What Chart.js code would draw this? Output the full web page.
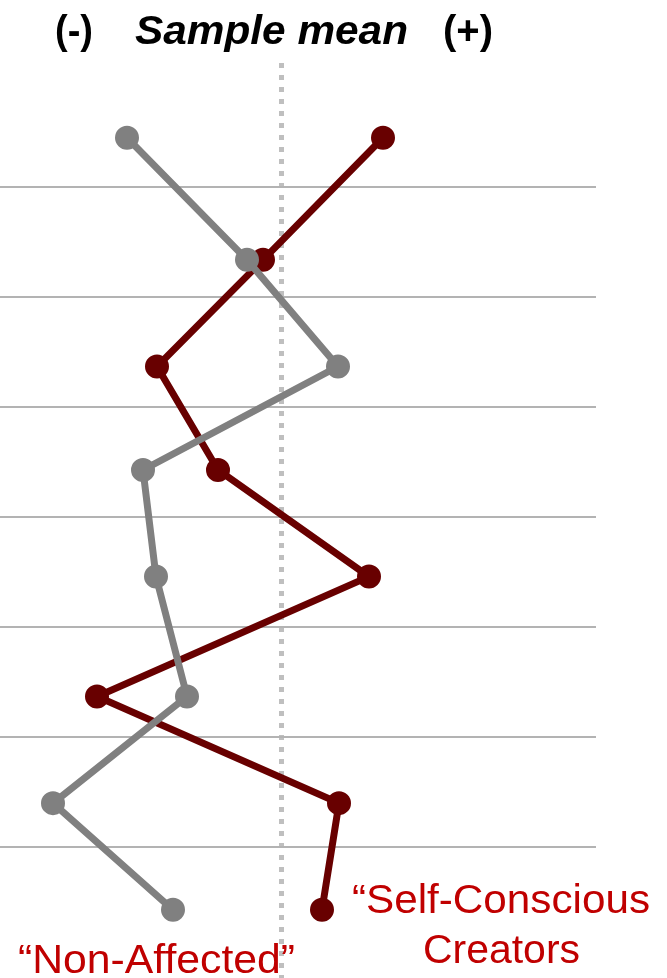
<!DOCTYPE html>
<html>
<head>
<meta charset="utf-8">
<script src="https://cdn.jsdelivr.net/npm/chart.js@4"></script>
<style>
  body { margin: 0; background: #fff; }
  canvas { display: block; }
</style>
</head>
<body>
<canvas id="profileChart" width="667" height="978"></canvas>
<script>
// Row position of each item (0 = top, gridlines between rows at 1..7)
var rows = [0.55, 1.66, 2.63, 3.57, 4.54, 5.63, 6.6, 7.57];
// Deviation from the sample mean (0 = dotted line)
var nonAffected = [-1.54, -0.34, 0.57, -1.38, -1.25, -0.94, -2.28, -1.08];
var selfConscious = [1.02, -0.18, -1.24, -0.63, 0.88, -1.84, 0.58, 0.41];
var separators = [1, 2, 3, 4, 5, 6, 7];
var sampleMean = 0;

function toPoints(xs) {
  return xs.map(function (x, i) { return { x: x, y: rows[i] }; });
}

// draw text squeezed/stretched to a given width
function fitText(ctx, text, left, baseline, width, font, color) {
  ctx.save();
  ctx.font = font;
  ctx.fillStyle = color;
  ctx.textBaseline = 'alphabetic';
  ctx.textAlign = 'left';
  var w = ctx.measureText(text).width;
  ctx.translate(left, baseline);
  ctx.scale(width / w, 1);
  ctx.fillText(text, 0, 0);
  ctx.restore();
}

var labelsPlugin = {
  id: 'labels',
  afterDraw: function (chart) {
    var ctx = chart.ctx;
    var bold = 'bold 40px "Liberation Sans", Arial, sans-serif';
    var boldItalic = 'italic bold 40px "Liberation Sans", Arial, sans-serif';
    var plain = '40px "Liberation Sans", Arial, sans-serif';
    fitText(ctx, '(-)', 55, 44, 38, bold, '#000');
    fitText(ctx, 'Sample mean', 135, 44, 273, boldItalic, '#000');
    fitText(ctx, '(+)', 443, 44, 50, bold, '#000');
    fitText(ctx, '\u201CSelf-Conscious', 352, 913, 298, plain, '#c00000');
    fitText(ctx, 'Creators', 423, 963, 157, plain, '#c00000');
    fitText(ctx, '\u201CNon-Affected\u201D', 18, 973, 277, plain, '#c00000');
  }
};

var ctx1 = document.getElementById('profileChart');
var profileChart = new Chart(ctx1, {
  type: 'line',
  data: {
    datasets: [
      {
        label: 'Non-Affected',
        data: toPoints(nonAffected),
        borderColor: '#808080',
        backgroundColor: '#808080',
        pointBackgroundColor: '#808080',
        pointBorderColor: '#808080',
        borderWidth: 7,
        pointRadius: 11,
        pointBorderWidth: 2,
        fill: false
      },
      {
        label: 'Self-Conscious Creators',
        data: toPoints(selfConscious),
        borderColor: '#680000',
        backgroundColor: '#680000',
        pointBackgroundColor: '#680000',
        pointBorderColor: '#680000',
        borderWidth: 7,
        pointRadius: 11,
        pointBorderWidth: 2,
        fill: false
      }
    ]
  },
  options: {
    responsive: false,
    animation: false,
    layout: { autoPadding: false, padding: { left: 0, right: 71, top: 63, bottom: 0 } },
    plugins: {
      legend: { display: false },
      tooltip: { enabled: false }
    },
    scales: {
      x: {
        type: 'linear',
        min: -2.81,
        max: 3.15,
        afterBuildTicks: function (axis) {
          axis.ticks = [{ value: sampleMean }];
        },
        ticks: { display: false },
        grid: { color: '#bfbfbf', lineWidth: 5, drawTicks: false },
        border: { display: false, dash: [5, 7] }
      },
      y: {
        type: 'linear',
        reverse: true,
        min: -0.13,
        max: 8.19,
        afterBuildTicks: function (axis) {
          axis.ticks = separators.map(function (v) { return { value: v }; });
        },
        ticks: { display: false },
        grid: { color: '#b3b3b3', lineWidth: 2, drawTicks: false },
        border: { display: false }
      }
    }
  },
  plugins: [labelsPlugin]
});
</script>
</body>
</html>
